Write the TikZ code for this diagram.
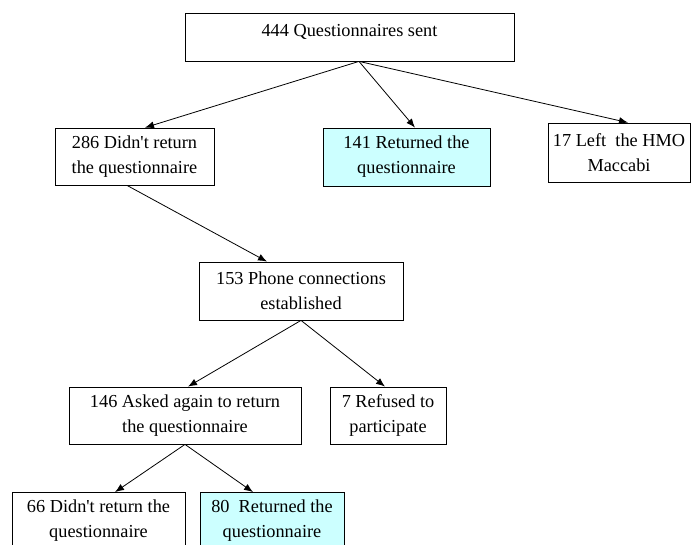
\documentclass[tikz,border=0pt]{standalone}
\usepackage{fontspec}
\setmainfont{Liberation Serif}
\usetikzlibrary{arrows.meta}
\definecolor{paleaqua}{HTML}{CCFFFF}

\begin{document}
\begin{tikzpicture}[x=1pt,y=-1pt,>={Latex[length=9pt,width=7pt]},
        box/.style={draw, line width=0.8pt, align=center, inner sep=0pt, font=\fontsize{18.3}{25}\selectfont},
        back/.style={box, fill=paleaqua},
        flow/.style={->, line width=0.8pt}]
        \useasboundingbox (0,0) rectangle (699,545);
        \clip (0,0) rectangle (699,545);
        \node[box, minimum width=329, minimum height=48, text height=12, text depth=12](sent) at (349.5,37){444 Questionnaires sent};
        \node[box, minimum width=159, minimum height=57](noret) at (134.5,156.5){286 Didn\textquotesingle t return\\the questionnaire};
        \node[back, minimum width=167, minimum height=58](ret) at (406.5,157){141 Returned the\\questionnaire};
        \node[box, minimum width=142, minimum height=59](left) at (619,152.5){17 Left~ the HMO\\Maccabi};
        \node[box, minimum width=204, minimum height=58](phone) at (301,291){153 Phone connections\\established};
        \node[box, minimum width=232, minimum height=57](asked) at (185,415.5){146 Asked again to return\\the questionnaire};
        \node[box, minimum width=116, minimum height=57](refused) at (388,415.5){7 Refused to\\participate};
        \node[box, minimum width=173, minimum height=57](noretb) at (98.5,521){66 Didn\textquotesingle t return the\\questionnaire};
        \node[back, minimum width=144, minimum height=57](retb) at (272,521){80~ Returned the\\questionnaire};
        \draw[flow]([xshift=9.5]sent.south)--([xshift=10.5]noret.north);
        \draw[flow]([xshift=9.5]sent.south)--([xshift=8.5]ret.north);
        \draw[flow]([xshift=9.5]sent.south)--([xshift=9]left.north);
        \draw[flow]([xshift=-7.5]noret.south)--([xshift=-34]phone.north);
        \draw[flow](phone.south)--([xshift=3]asked.north);
        \draw[flow](phone.south)--([xshift=-3]refused.north);
        \draw[flow](asked.south)--([xshift=16.5]noretb.north);
        \draw[flow](asked.south)--([xshift=-19]retb.north);
    \end{tikzpicture}
\end{document}
